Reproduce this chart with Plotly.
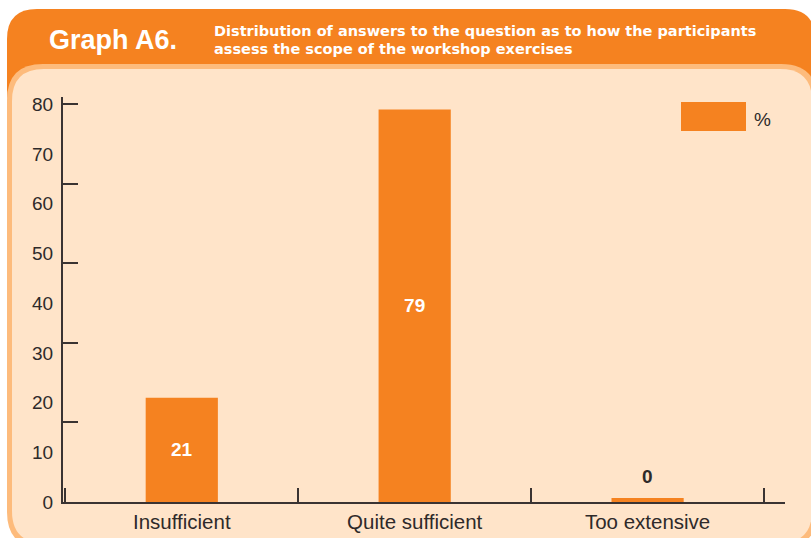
import plotly.graph_objects as go

categories = ['Insufficient', 'Quite sufficient', 'Too extensive']
percent = [21, 79, 0]
y_labels = [0, 10, 20, 30, 40, 50, 60, 70, 80]
y_marks = [16, 32, 48, 64, 80]

ORANGE = '#F58220'
PEACH = '#FFE4C9'
EDGE = '#FDBB7C'
INK = '#2E2A2A'
FONT = 'Liberation Sans, Arial, sans-serif'
HEAD_FONT = 'DejaVu Sans, Verdana, sans-serif'

W, H = 811, 538
L, R, T, B = 63, 26, 97, 36


def px(x):
    return (x - L) / (W - L - R)


def py(y):
    return (H - B - y) / (H - T - B)


def rounded(x0, y0, x1, y1, r):
    pts = [('M', x0 + r, y0), ('L', x1 - r, y0), ('Q', x1, y0, x1, y0 + r),
           ('L', x1, y1 - r), ('Q', x1, y1, x1 - r, y1), ('L', x0 + r, y1),
           ('Q', x0, y1, x0, y1 - r), ('L', x0, y0 + r), ('Q', x0, y0, x0 + r, y0)]
    out = []
    for p in pts:
        cmd, coords = p[0], p[1:]
        xy = []
        for i in range(0, len(coords), 2):
            xy.append(f'{px(coords[i]):.5f},{py(coords[i + 1]):.5f}')
        out.append(cmd + ' '.join(xy))
    return ' '.join(out) + ' Z'


# tiny stub so a 0 % bar still shows as a thin strip like the original
heights = [max(v, 0.8) for v in percent]
inside = [str(v) if v >= 5 else '' for v in percent]

fig = go.Figure(go.Bar(
    x=categories, y=heights, text=inside,
    texttemplate='<b>%{text}</b>', textposition='inside',
    insidetextanchor='middle',
    textfont=dict(family=FONT, size=19, color='white'),
    marker=dict(color=ORANGE, line=dict(width=0)),
    width=0.31, showlegend=False, hoverinfo='skip',
))

annotations = []
for c, v in zip(categories, percent):
    if v < 5:
        annotations.append(dict(x=c, y=v, yshift=26, text=f'<b>{v}</b>', showarrow=False,
                                font=dict(family=FONT, size=19, color=INK)))

shapes = [
    dict(type='path', xref='paper', yref='paper', layer='below',
         path=rounded(7, 9, 815, 120, 30), fillcolor=ORANGE, line=dict(width=0)),
    dict(type='path', xref='paper', yref='paper', layer='below',
         path=rounded(7, 64, 817, 548, 36), fillcolor=EDGE, line=dict(width=0)),
    dict(type='path', xref='paper', yref='paper', layer='below',
         path=rounded(12, 69, 812, 543, 32), fillcolor=PEACH, line=dict(width=0)),
    # legend swatch
    dict(type='rect', xref='paper', yref='paper', x0=px(681), x1=px(746), y0=py(131), y1=py(102),
         fillcolor=ORANGE, line=dict(width=0)),
]

annotations += [
    dict(xref='paper', yref='paper', x=px(47), y=py(40), xanchor='left', yanchor='middle',
         text='<b>Graph A6.</b>', showarrow=False, font=dict(family=FONT, size=27, color='white')),
    dict(xref='paper', yref='paper', x=px(212), y=py(31), xanchor='left', yanchor='middle',
         text='<b>Distribution of answers to the question as to how the participants</b>',
         showarrow=False, font=dict(family=HEAD_FONT, size=14.5, color='white')),
    dict(xref='paper', yref='paper', x=px(212), y=py(49), xanchor='left', yanchor='middle',
         text='<b>assess the scope of the workshop exercises</b>',
         showarrow=False, font=dict(family=HEAD_FONT, size=14.5, color='white')),
    dict(xref='paper', yref='paper', x=px(752), y=py(119), xanchor='left', yanchor='middle',
         text='%', showarrow=False, font=dict(family=FONT, size=19, color=INK)),
]

fig.update_layout(
    width=W, height=H,
    margin=dict(l=L, r=R, t=T, b=B, pad=0),
    paper_bgcolor='white', plot_bgcolor='rgba(0,0,0,0)',
    shapes=shapes, annotations=annotations,
    font=dict(family=FONT, color=INK),
    xaxis=dict(
        type='category', range=[-0.51, 2.59], showgrid=False, zeroline=False,
        showline=True, linecolor='#3A3332', linewidth=2, automargin=False,
        ticks='inside', tickson='boundaries', ticklen=14, tickwidth=2, tickcolor='#3A3332',
        tickfont=dict(family=FONT, size=20.5, color=INK), fixedrange=True,
    ),
    yaxis=dict(
        range=[0, 81.5], showgrid=False, zeroline=False, automargin=False,
        showline=True, linecolor='#3A3332', linewidth=2,
        tickvals=y_labels, ticks='', ticklabelstandoff=4,
        tickfont=dict(family=FONT, size=19, color=INK),
        minor=dict(tickvals=y_marks, ticks='inside', ticklen=15, tickwidth=2, tickcolor='#3A3332'),
        fixedrange=True,
    ),
)

fig.write_html('out.html', config={'displayModeBar': False},
               post_script="document.body.style.margin='0';document.body.style.overflow='hidden';")
